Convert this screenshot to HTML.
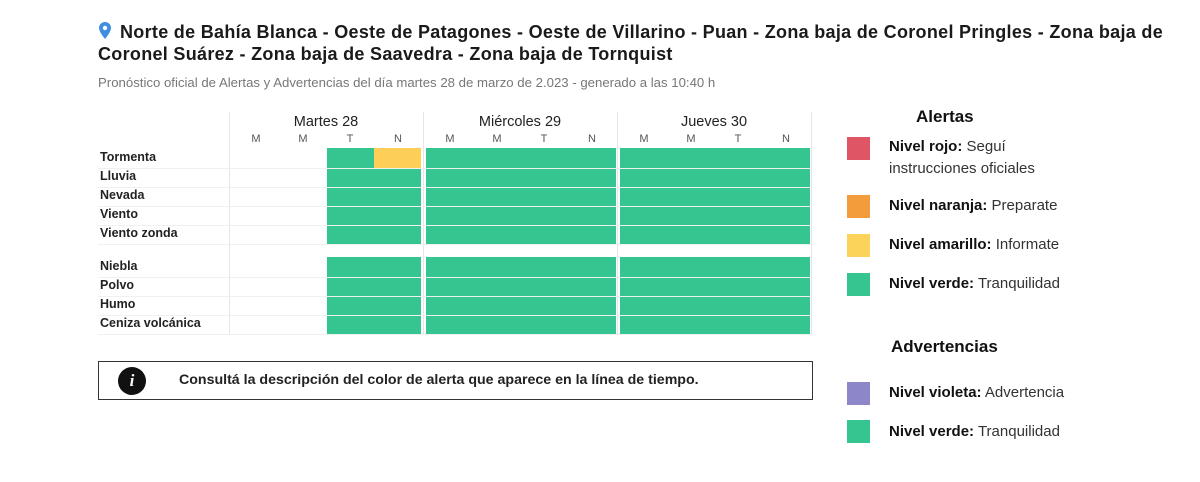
<!DOCTYPE html>
<html><head><meta charset="utf-8"><style>
body{margin:0;width:1200px;height:482px;background:#fff;font-family:"Liberation Sans",Arial,sans-serif;position:relative;overflow:hidden;color:#222}
.a{position:absolute;white-space:nowrap}
.t{font-weight:bold;font-size:18px;color:#1a1a1a;left:120px;letter-spacing:0.3px}
.lab{left:100px;font-size:12.5px;font-weight:bold;color:#222}
.c{position:absolute;height:18px}
.g{background:#34c591}.y{background:#fdcf57}
.hl{position:absolute;left:98px;width:714px;height:1px;background:#f0f0f0}
.day{font-size:14.5px;color:#222;text-align:center;width:192px}
.sub{font-size:11px;color:#555;text-align:center;width:48px}
.sw{position:absolute;left:847px;width:23px;height:23px}
.lt{left:889px;font-size:15px;color:#333}
.lt b{color:#111}
</style></head><body>
<svg class="a" style="left:99px;top:22px" width="12" height="17" viewBox="0 0 12 17"><path d="M6 0C2.7 0 0 2.6 0 5.9 0 10 6 17 6 17s6-7 6-11.1C12 2.6 9.3 0 6 0z" fill="#3d8ee0"/><circle cx="6" cy="6" r="2.2" fill="#fff"/></svg>
<div class="a t" style="top:22px">Norte de Bahía Blanca - Oeste de Patagones - Oeste de Villarino - Puan - Zona baja de Coronel Pringles - Zona baja de</div>
<div class="a t" style="top:44px;left:98px">Coronel Suárez - Zona baja de Saavedra - Zona baja de Tornquist</div>
<div class="a" style="left:98px;top:75px;font-size:13.2px;color:#777">Pronóstico oficial de Alertas y Advertencias del día martes 28 de marzo de 2.023 - generado a las 10:40 h</div>

<div class="a" style="left:229px;top:112px;width:1px;height:223px;background:#e6e6e6"></div>
<div class="a" style="left:423px;top:112px;width:1px;height:223px;background:#e6e6e6"></div>
<div class="a" style="left:617px;top:112px;width:1px;height:223px;background:#e6e6e6"></div>
<div class="a" style="left:811px;top:112px;width:1px;height:223px;background:#e6e6e6"></div>

<div class="a day" style="left:230px;top:114px">Martes 28</div>
<div class="a day" style="left:424px;top:114px">Miércoles 29</div>
<div class="a day" style="left:618px;top:114px">Jueves 30</div>
<div class="a sub" style="left:232px;top:133px">M</div><div class="a sub" style="left:279px;top:133px">M</div><div class="a sub" style="left:326px;top:133px">T</div><div class="a sub" style="left:374px;top:133px">N</div>
<div class="a sub" style="left:426px;top:133px">M</div><div class="a sub" style="left:473px;top:133px">M</div><div class="a sub" style="left:520px;top:133px">T</div><div class="a sub" style="left:568px;top:133px">N</div>
<div class="a sub" style="left:620px;top:133px">M</div><div class="a sub" style="left:667px;top:133px">M</div><div class="a sub" style="left:714px;top:133px">T</div><div class="a sub" style="left:762px;top:133px">N</div>

<div class="a lab" style="top:150px">Tormenta</div>
<div class="c g" style="left:327px;top:148px;width:47px;height:20px"></div>
<div class="c y" style="left:374px;top:148px;width:47px;height:20px"></div>
<div class="c g" style="left:426px;top:148px;width:190px;height:20px"></div>
<div class="c g" style="left:620px;top:148px;width:190px;height:20px"></div>

<div class="a lab" style="top:169px">Lluvia</div>
<div class="c g" style="left:327px;top:169px;width:94px"></div><div class="c g" style="left:426px;top:169px;width:190px"></div><div class="c g" style="left:620px;top:169px;width:190px"></div>
<div class="a lab" style="top:188px">Nevada</div>
<div class="c g" style="left:327px;top:188px;width:94px"></div><div class="c g" style="left:426px;top:188px;width:190px"></div><div class="c g" style="left:620px;top:188px;width:190px"></div>
<div class="a lab" style="top:207px">Viento</div>
<div class="c g" style="left:327px;top:207px;width:94px"></div><div class="c g" style="left:426px;top:207px;width:190px"></div><div class="c g" style="left:620px;top:207px;width:190px"></div>
<div class="a lab" style="top:226px">Viento zonda</div>
<div class="c g" style="left:327px;top:226px;width:94px"></div><div class="c g" style="left:426px;top:226px;width:190px"></div><div class="c g" style="left:620px;top:226px;width:190px"></div>

<div class="a lab" style="top:259px">Niebla</div>
<div class="c g" style="left:327px;top:257px;width:94px;height:20px"></div><div class="c g" style="left:426px;top:257px;width:190px;height:20px"></div><div class="c g" style="left:620px;top:257px;width:190px;height:20px"></div>
<div class="a lab" style="top:278px">Polvo</div>
<div class="c g" style="left:327px;top:278px;width:94px"></div><div class="c g" style="left:426px;top:278px;width:190px"></div><div class="c g" style="left:620px;top:278px;width:190px"></div>
<div class="a lab" style="top:297px">Humo</div>
<div class="c g" style="left:327px;top:297px;width:94px"></div><div class="c g" style="left:426px;top:297px;width:190px"></div><div class="c g" style="left:620px;top:297px;width:190px"></div>
<div class="a lab" style="top:316px">Ceniza volcánica</div>
<div class="c g" style="left:327px;top:316px;width:94px"></div><div class="c g" style="left:426px;top:316px;width:190px"></div><div class="c g" style="left:620px;top:316px;width:190px"></div>

<div class="hl" style="top:168px"></div><div class="hl" style="top:187px"></div><div class="hl" style="top:206px"></div><div class="hl" style="top:225px"></div><div class="hl" style="top:244px"></div>
<div class="hl" style="top:277px"></div><div class="hl" style="top:296px"></div><div class="hl" style="top:315px"></div><div class="hl" style="top:334px"></div>

<div class="a" style="left:98px;top:361px;width:715px;height:39px;border:1px solid #333;box-sizing:border-box"></div>
<div class="a" style="left:118px;top:367px;width:28px;height:28px;border-radius:50%;background:#111;color:#fff;font:bold italic 17px 'Liberation Serif',serif;text-align:center;line-height:28px">i</div>
<div class="a" style="left:179px;top:372px;font-size:14.2px;font-weight:bold;color:#222">Consultá la descripción del color de alerta que aparece en la línea de tiempo.</div>

<div class="a" style="left:916px;top:107px;font-size:17px;font-weight:bold;color:#111">Alertas</div>
<div class="sw" style="top:137px;background:#e05565"></div>
<div class="a lt" style="top:138px"><b>Nivel rojo:</b> Seguí</div>
<div class="a lt" style="top:160px">instrucciones oficiales</div>
<div class="sw" style="top:195px;background:#f39c3c"></div>
<div class="a lt" style="top:197px"><b>Nivel naranja:</b> Preparate</div>
<div class="sw" style="top:234px;background:#fcd35a"></div>
<div class="a lt" style="top:236px"><b>Nivel amarillo:</b> Informate</div>
<div class="sw" style="top:273px;background:#34c591"></div>
<div class="a lt" style="top:275px"><b>Nivel verde:</b> Tranquilidad</div>
<div class="a" style="left:891px;top:337px;font-size:17px;font-weight:bold;color:#111">Advertencias</div>
<div class="sw" style="top:382px;background:#8d87c9"></div>
<div class="a lt" style="top:384px"><b>Nivel violeta:</b> Advertencia</div>
<div class="sw" style="top:420px;background:#34c591"></div>
<div class="a lt" style="top:423px"><b>Nivel verde:</b> Tranquilidad</div>
</body></html>
